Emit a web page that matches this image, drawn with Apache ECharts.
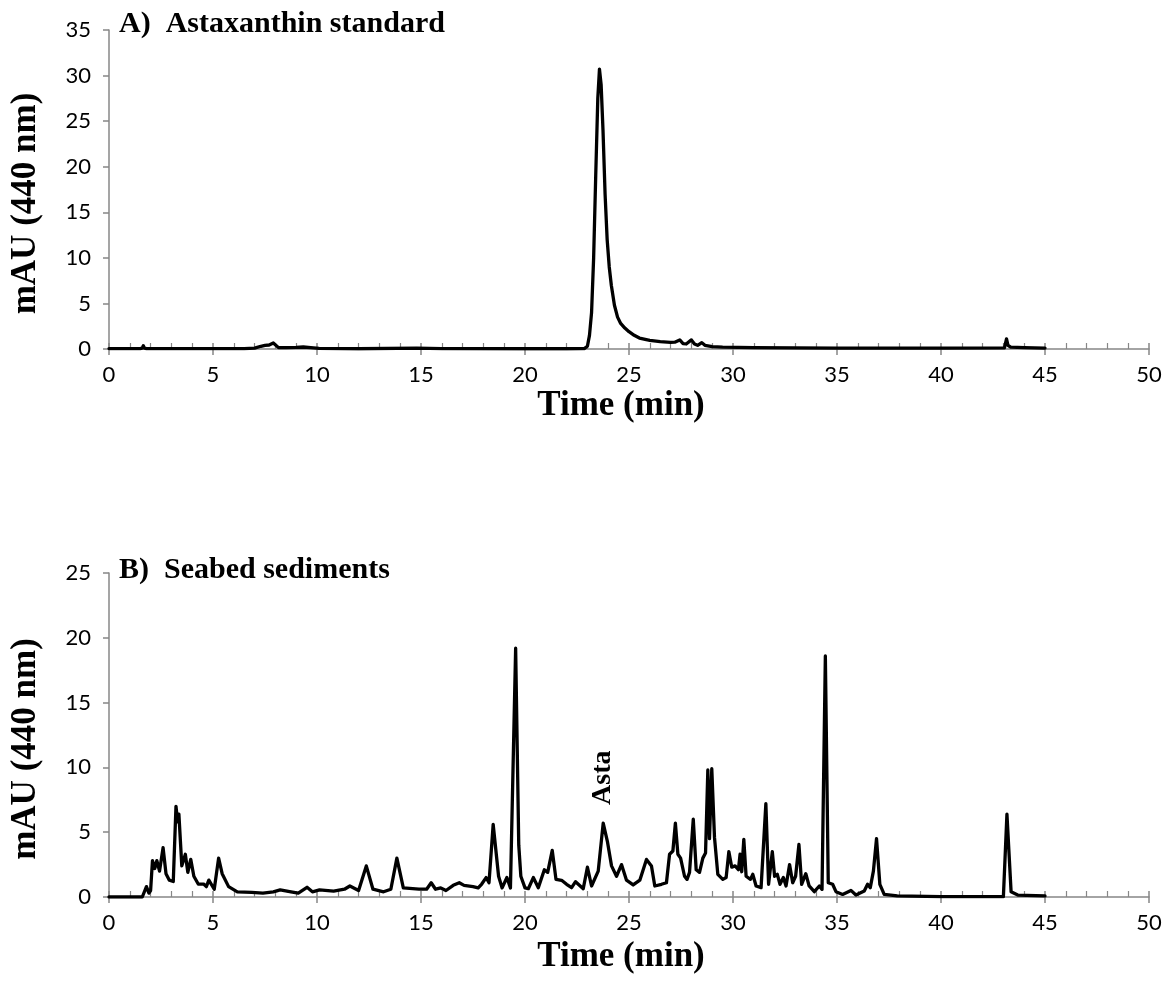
<!DOCTYPE html>
<html>
<head>
<meta charset="utf-8">
<script src="https://cdn.jsdelivr.net/npm/echarts@6/dist/echarts.min.js"></script>
<style>
  html, body { margin: 0; padding: 0; background: #ffffff; }
  #chart { width: 1176px; height: 982px; }
</style>
</head>
<body>
<div id="chart"></div>
<script>
// Panel A: astaxanthin standard, absorbance at 440 nm vs retention time
const timeA = [0, 1.5, 1.6, 1.65, 1.7, 1.8, 2.0, 4.0, 6.5, 7.0, 7.3, 7.5, 7.7, 7.9, 8.15, 8.5, 9.0, 9.34, 9.7, 10.1, 12.0, 14.8, 16.0, 20.0, 22.0, 22.85,
  23.0, 23.1, 23.2, 23.3, 23.4, 23.5, 23.58, 23.66, 23.75, 23.85, 23.95, 24.05, 24.15, 24.3, 24.45, 24.6, 24.8, 25.0, 25.25, 25.5, 26.0, 26.5, 27.0,
  27.2, 27.44, 27.6, 27.75, 28.0, 28.15, 28.3, 28.5, 28.65, 29.0, 29.5, 31.0, 35.0, 40.0, 43.05, 43.15, 43.22, 43.35, 44.0, 45.0];
const absA = [0.05, 0.05, 0.1, 0.36, 0.1, 0.05, 0.05, 0.05, 0.05, 0.1, 0.3, 0.4, 0.44, 0.66, 0.15, 0.15, 0.18, 0.22, 0.15, 0.07, 0.03, 0.1, 0.05, 0.03, 0.03, 0.05,
  0.3, 1.5, 4.0, 10.0, 19.0, 27.5, 30.7, 29.0, 24.0, 17.0, 12.0, 9.0, 7.0, 4.8, 3.5, 2.8, 2.3, 1.9, 1.5, 1.2, 0.95, 0.8, 0.73,
  0.75, 1.0, 0.6, 0.55, 1.0, 0.55, 0.4, 0.7, 0.4, 0.25, 0.2, 0.15, 0.1, 0.1, 0.12, 1.1, 0.4, 0.2, 0.15, 0.1];

// Panel B: seabed sediment extract, same detection conditions
const timeB = [0, 1.6, 1.68, 1.8, 1.92, 2.0, 2.09, 2.2, 2.3, 2.43, 2.6, 2.74, 2.9, 3.09, 3.22, 3.3, 3.36, 3.5, 3.67, 3.79, 3.93, 4.08, 4.29, 4.55, 4.68, 4.8,
  5.06, 5.27, 5.44, 5.75, 6.17, 6.86, 7.4, 7.9, 8.23, 8.75, 9.1, 9.52, 9.78, 10.12, 10.8, 11.32, 11.58, 12.0, 12.37, 12.69, 13.2, 13.55, 13.84, 14.15,
  14.9, 15.27, 15.49, 15.7, 15.95, 16.2, 16.55, 16.84, 17.07, 17.5, 17.75, 17.92, 18.13, 18.27, 18.47, 18.73, 18.9, 19.13, 19.3, 19.55, 19.7, 19.8,
  20.0, 20.16, 20.4, 20.64, 20.93, 21.09, 21.31, 21.49, 21.76, 22.0, 22.24, 22.43, 22.8, 23.0, 23.2, 23.52, 23.76, 23.96, 24.16, 24.4, 24.64, 24.88,
  25.2, 25.52, 25.84, 26.08, 26.24, 26.56, 26.8, 26.95, 27.11, 27.23, 27.35, 27.48, 27.67, 27.79, 27.91, 28.09, 28.23, 28.39, 28.55, 28.68, 28.79,
  28.87, 28.98, 29.11, 29.27, 29.51, 29.67, 29.8, 29.94, 30.1, 30.26, 30.34, 30.42, 30.52, 30.63, 30.84, 30.95, 31.11, 31.35, 31.58, 31.71, 31.89,
  32.0, 32.13, 32.26, 32.42, 32.55, 32.72, 32.87, 33.01, 33.17, 33.3, 33.5, 33.66, 33.91, 34.15, 34.28, 34.44, 34.58, 34.79, 34.95, 35.27, 35.67,
  35.91, 36.31, 36.47, 36.6, 36.75, 36.9, 37.06, 37.27, 37.9, 40.0, 43.0, 43.17, 43.37, 43.69, 45.0];
const absB = [0, 0, 0, 0.8, 0.3, 0.5, 2.8, 2.2, 2.8, 2.0, 3.8, 1.8, 1.3, 1.2, 7.0, 5.8, 6.4, 2.4, 3.3, 1.9, 2.9, 1.6, 1.0, 1.0, 0.8, 1.3,
  0.6, 3.0, 1.8, 0.8, 0.4, 0.35, 0.3, 0.4, 0.55, 0.4, 0.3, 0.75, 0.4, 0.55, 0.45, 0.6, 0.85, 0.5, 2.4, 0.6, 0.4, 0.6, 3.0, 0.7,
  0.6, 0.6, 1.1, 0.6, 0.7, 0.5, 0.9, 1.1, 0.9, 0.8, 0.7, 1.0, 1.5, 1.1, 5.6, 1.6, 0.7, 1.5, 0.7, 19.2, 4.0, 1.6,
  0.7, 0.64, 1.5, 0.72, 2.1, 1.9, 3.6, 1.36, 1.29, 0.98, 0.72, 1.18, 0.64, 2.3, 0.85, 2.0, 5.7, 4.3, 2.4, 1.6, 2.5, 1.3,
  0.93, 1.3, 2.9, 2.4, 0.85, 0.98, 1.1, 3.3, 3.55, 5.7, 3.3, 3.0, 1.6, 1.36, 1.9, 6.0, 2.1, 1.9, 3.0, 3.4, 9.8,
  4.5, 9.9, 4.6, 1.75, 1.36, 1.5, 3.5, 2.3, 2.4, 2.1, 3.3, 1.95, 4.45, 1.6, 1.36, 1.75, 0.85, 0.72, 7.2, 0.98, 3.5,
  1.6, 1.75, 0.98, 1.5, 0.85, 2.5, 1.1, 1.6, 4.05, 0.98, 1.8, 0.85, 0.41, 0.85, 0.59, 18.6, 1.1, 0.98, 0.41, 0.2, 0.51,
  0.15, 0.46, 0.98, 0.72, 2.0, 4.5, 0.98, 0.2, 0.08, 0.03, 0.03, 6.4, 0.4, 0.15, 0.08];

// Peak annotation in panel B (retention time, label height)
const astaLabel = { text: 'Asta', time: 23.72, height: 9.2 };

// Axis ranges
const xRange = { min: 0, max: 50, step: 5 };
const yRangeA = { min: 0, max: 35, step: 5 };
const yRangeB = { min: 0, max: 25, step: 5 };

const pairs = (xs, ys) => xs.map((x, i) => [x, ys[i]]);

const AXIS_GREY = '#878787';
const SERIF = '"Liberation Serif", "Times New Roman", serif';
const SANS = 'Lato, "Open Sans", sans-serif';
const NAME_SIZE = 35;
const TICK_SIZE = 22;

function xAxesFor(gridIndex, nameGap) {
  // Main axis: labels, name, upward ticks (major + minor)
  const main = {
    type: 'value', gridIndex: gridIndex,
    min: xRange.min, max: xRange.max, interval: xRange.step,
    axisLine: { show: true, onZero: false, lineStyle: { color: AXIS_GREY, width: 1.5 } },
    axisTick: { show: true, inside: true, length: 6, lineStyle: { color: AXIS_GREY, width: 1.5 } },
    minorTick: { show: true, splitNumber: 5, length: 6, lineStyle: { color: AXIS_GREY, width: 1.2 } },
    splitLine: { show: false },
    axisLabel: { color: '#000', fontFamily: SANS, fontSize: TICK_SIZE, margin: 15 },
    name: 'Time (min)', nameLocation: 'middle', nameGap: nameGap,
    nameTextStyle: { color: '#000', fontFamily: SERIF, fontWeight: 'bold', fontSize: NAME_SIZE, padding: [0, 16, 0, 0] }
  };
  // Companion axis: downward major ticks so majors cross the axis line
  const cross = {
    type: 'value', gridIndex: gridIndex, position: 'bottom', offset: 0,
    min: xRange.min, max: xRange.max, interval: xRange.step,
    axisLine: { show: false },
    axisTick: { show: true, inside: false, length: 6, lineStyle: { color: AXIS_GREY, width: 1.5 } },
    axisLabel: { show: false }, splitLine: { show: false }
  };
  return [main, cross];
}

function yAxisFor(gridIndex, range) {
  return {
    type: 'value', gridIndex: gridIndex,
    min: range.min, max: range.max, interval: range.step,
    axisLine: { show: true, lineStyle: { color: AXIS_GREY, width: 1.5 } },
    axisTick: { show: true, inside: false, length: 6, lineStyle: { color: AXIS_GREY, width: 1.5 } },
    splitLine: { show: false },
    axisLabel: { color: '#000', fontFamily: SANS, fontSize: TICK_SIZE, margin: 18 },
    name: 'mAU (440 nm)', nameLocation: 'middle', nameGap: 66, nameRotate: 90,
    nameTextStyle: { color: '#000', fontFamily: SERIF, fontWeight: 'bold', fontSize: NAME_SIZE, padding: [0, 28, 0, 0] }
  };
}

const traceStyle = { color: '#000', width: 3.3, join: 'round', cap: 'round' };
const titleStyle = { fontFamily: SERIF, fontWeight: 'bold', fontSize: 30, color: '#000' };

const option = {
  animation: false,
  backgroundColor: '#ffffff',
  title: [
    { text: 'A)  Astaxanthin standard', left: 114, top: 4, textStyle: titleStyle },
    { text: 'B)  Seabed sediments', left: 114, top: 550, textStyle: titleStyle }
  ],
  grid: [
    { left: 107, right: 27, top: 30, height: 319 },
    { left: 107, right: 27, top: 573, height: 324 }
  ],
  xAxis: [...xAxesFor(0, 39), ...xAxesFor(1, 42)],
  yAxis: [yAxisFor(0, yRangeA), yAxisFor(1, yRangeB)],
  series: [
    {
      type: 'line', xAxisIndex: 0, yAxisIndex: 0, showSymbol: false, symbol: 'none',
      lineStyle: traceStyle, data: pairs(timeA, absA)
    },
    {
      type: 'line', xAxisIndex: 2, yAxisIndex: 1, showSymbol: false, symbol: 'none',
      lineStyle: traceStyle, data: pairs(timeB, absB),
      markPoint: {
        symbol: 'circle', symbolSize: 0, silent: true,
        data: [{ coord: [astaLabel.time, astaLabel.height] }],
        label: {
          show: true, position: 'inside', formatter: astaLabel.text, rotate: 90,
          color: '#000', fontFamily: SERIF, fontWeight: 'bold', fontSize: 28
        }
      }
    }
  ]
};

const chart = echarts.init(document.getElementById('chart'), null, { renderer: 'canvas' });
chart.setOption(option);
</script>
</body>
</html>
